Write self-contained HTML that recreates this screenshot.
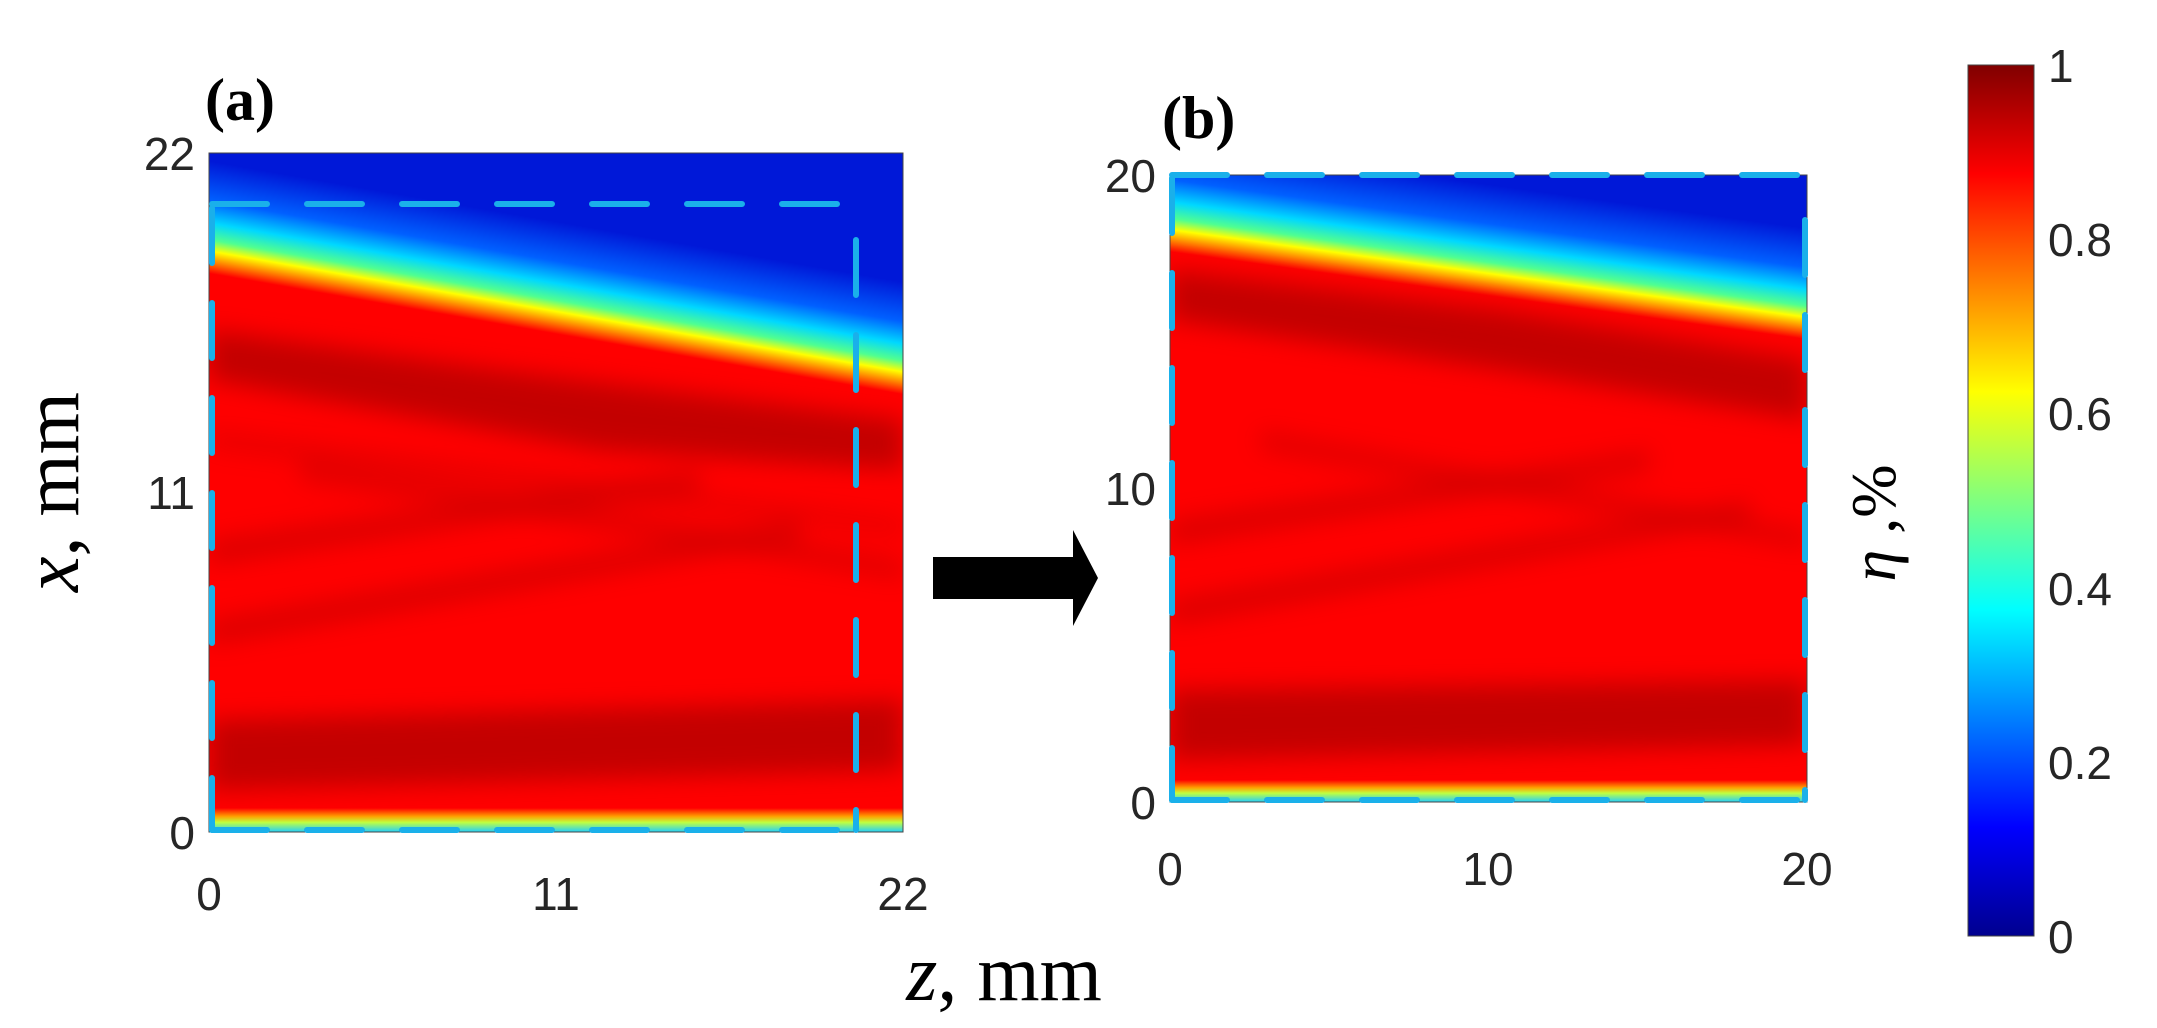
<!DOCTYPE html>
<html><head><meta charset="utf-8"><style>
html,body{margin:0;padding:0;background:#fff}
svg{display:block}
</style></head><body>
<svg width="2157" height="1028" viewBox="0 0 2157 1028" xmlns="http://www.w3.org/2000/svg">
<defs>
<linearGradient id="ga" gradientUnits="userSpaceOnUse" x1="570" y1="224" x2="551" y2="333">
<stop offset="0" stop-color="#0018d8"/><stop offset="0.35" stop-color="#0060ff"/><stop offset="0.55" stop-color="#00d8ff"/><stop offset="0.7" stop-color="#50ff90"/><stop offset="0.8" stop-color="#ffff00"/><stop offset="0.9" stop-color="#ff8000"/><stop offset="1" stop-color="#ff0000"/>
</linearGradient>
<linearGradient id="gb" gradientUnits="userSpaceOnUse" x1="1499" y1="186" x2="1484" y2="295">
<stop offset="0" stop-color="#0018d8"/><stop offset="0.35" stop-color="#0060ff"/><stop offset="0.55" stop-color="#00d8ff"/><stop offset="0.7" stop-color="#50ff90"/><stop offset="0.8" stop-color="#ffff00"/><stop offset="0.9" stop-color="#ff8000"/><stop offset="1" stop-color="#ff0000"/>
</linearGradient>
<linearGradient id="bot" x1="0" y1="0" x2="0" y2="1">
<stop offset="0" stop-color="#ff0000"/><stop offset="0.35" stop-color="#ffa000"/><stop offset="0.6" stop-color="#c0ff40"/><stop offset="1" stop-color="#20d0ff"/>
</linearGradient>
<linearGradient id="jet" x1="0" y1="1" x2="0" y2="0">
<stop offset="0" stop-color="#00008f"/><stop offset="0.125" stop-color="#0000ff"/><stop offset="0.375" stop-color="#00ffff"/><stop offset="0.625" stop-color="#ffff00"/><stop offset="0.875" stop-color="#ff0000"/><stop offset="1" stop-color="#800000"/>
</linearGradient>
<filter id="bl" x="-10%" y="-50%" width="120%" height="200%"><feGaussianBlur stdDeviation="12"/></filter>
<clipPath id="ca"><rect x="209" y="153" width="694" height="679"/></clipPath>
<clipPath id="cb"><rect x="1170" y="175" width="637" height="627"/></clipPath>
</defs>

<!-- Panel a -->
<g clip-path="url(#ca)">
<rect x="209" y="153" width="694" height="679" fill="url(#ga)"/>
<g filter="url(#bl)" fill="#b00000" opacity="0.75">
<path d="M209 330 L500 370 L903 420 L903 470 L600 450 L209 380 Z"/>
<path d="M209 720 L903 700 L903 770 L209 790 Z"/>
<path d="M209 540 L700 470 L700 490 L209 565 Z" opacity="0.6"/>
<path d="M209 620 L800 520 L800 540 L209 645 Z" opacity="0.6"/>
<path d="M300 460 L903 560 L903 580 L300 480 Z" opacity="0.5"/>
<path d="M209 430 L903 520 L903 535 L209 448 Z" opacity="0.4"/>
</g>
<rect x="209" y="808" width="694" height="24" fill="url(#bot)"/>
</g>
<rect x="209" y="153" width="694" height="679" fill="none" stroke="#444" stroke-width="1"/>
<g stroke="#1ab0ea" stroke-width="6" stroke-linecap="round" fill="none" stroke-dasharray="55 40">
<line x1="212" y1="204" x2="856" y2="204"/>
<line x1="212" y1="208" x2="212" y2="830"/>
<line x1="856" y1="240" x2="856" y2="830"/>
<line x1="212" y1="830" x2="856" y2="830"/>
</g>
<g font-family="Liberation Sans, sans-serif" font-size="46" fill="#262626">
<text x="195" y="170" text-anchor="end">22</text>
<text x="195" y="509" text-anchor="end">11</text>
<text x="195" y="849" text-anchor="end">0</text>
<text x="209" y="910" text-anchor="middle">0</text>
<text x="556" y="910" text-anchor="middle">11</text>
<text x="903" y="910" text-anchor="middle">22</text>
</g>
<text x="205" y="120" font-family="Liberation Serif, serif" font-weight="bold" font-size="60">(a)</text>
<text transform="translate(78,492) rotate(-90)" text-anchor="middle" font-family="Liberation Serif, serif" font-size="80"><tspan font-style="italic">x</tspan>,  mm</text>
<text x="1004" y="1000" text-anchor="middle" font-family="Liberation Serif, serif" font-size="80"><tspan font-style="italic">z</tspan>,  mm</text>

<!-- Arrow -->
<polygon points="933,557 1073,557 1073,530 1098,578 1073,626 1073,599 933,599" fill="#000"/>

<!-- Panel b -->
<g clip-path="url(#cb)">
<rect x="1170" y="175" width="637" height="627" fill="url(#gb)"/>
<g filter="url(#bl)" fill="#b00000" opacity="0.75">
<path d="M1170 270 L1500 310 L1807 360 L1807 420 L1500 370 L1170 320 Z"/>
<path d="M1170 690 L1807 680 L1807 745 L1170 760 Z"/>
<path d="M1170 520 L1650 450 L1650 470 L1170 545 Z" opacity="0.6"/>
<path d="M1170 600 L1750 500 L1750 520 L1170 625 Z" opacity="0.6"/>
<path d="M1260 430 L1807 530 L1807 550 L1260 450 Z" opacity="0.5"/>
</g>
<rect x="1170" y="780" width="637" height="22" fill="url(#bot)"/>
</g>
<rect x="1170" y="175" width="637" height="627" fill="none" stroke="#444" stroke-width="1"/>
<g stroke="#1ab0ea" stroke-width="6" stroke-linecap="round" fill="none" stroke-dasharray="55 40">
<line x1="1172" y1="175" x2="1805" y2="175"/>
<line x1="1172" y1="178" x2="1172" y2="800"/>
<line x1="1805" y1="220" x2="1805" y2="800"/>
<line x1="1172" y1="800" x2="1805" y2="800"/>
</g>
<g font-family="Liberation Sans, sans-serif" font-size="46" fill="#262626">
<text x="1156" y="192" text-anchor="end">20</text>
<text x="1156" y="505" text-anchor="end">10</text>
<text x="1156" y="819" text-anchor="end">0</text>
<text x="1170" y="885" text-anchor="middle">0</text>
<text x="1488" y="885" text-anchor="middle">10</text>
<text x="1807" y="885" text-anchor="middle">20</text>
</g>
<text x="1162" y="138" font-family="Liberation Serif, serif" font-weight="bold" font-size="60">(b)</text>

<!-- Colorbar -->
<rect x="1968" y="65" width="66" height="871" fill="url(#jet)" stroke="#444" stroke-width="1"/>
<g font-family="Liberation Sans, sans-serif" font-size="46" fill="#262626">
<text x="2048" y="82">1</text>
<text x="2048" y="256">0.8</text>
<text x="2048" y="430">0.6</text>
<text x="2048" y="605">0.4</text>
<text x="2048" y="779">0.2</text>
<text x="2048" y="953">0</text>
</g>
<text transform="translate(1895,523) rotate(-90)" text-anchor="middle" font-family="Liberation Serif, DejaVu Serif, serif" font-size="64"><tspan font-style="italic">η</tspan> ,%</text>
</svg>
</body></html>
